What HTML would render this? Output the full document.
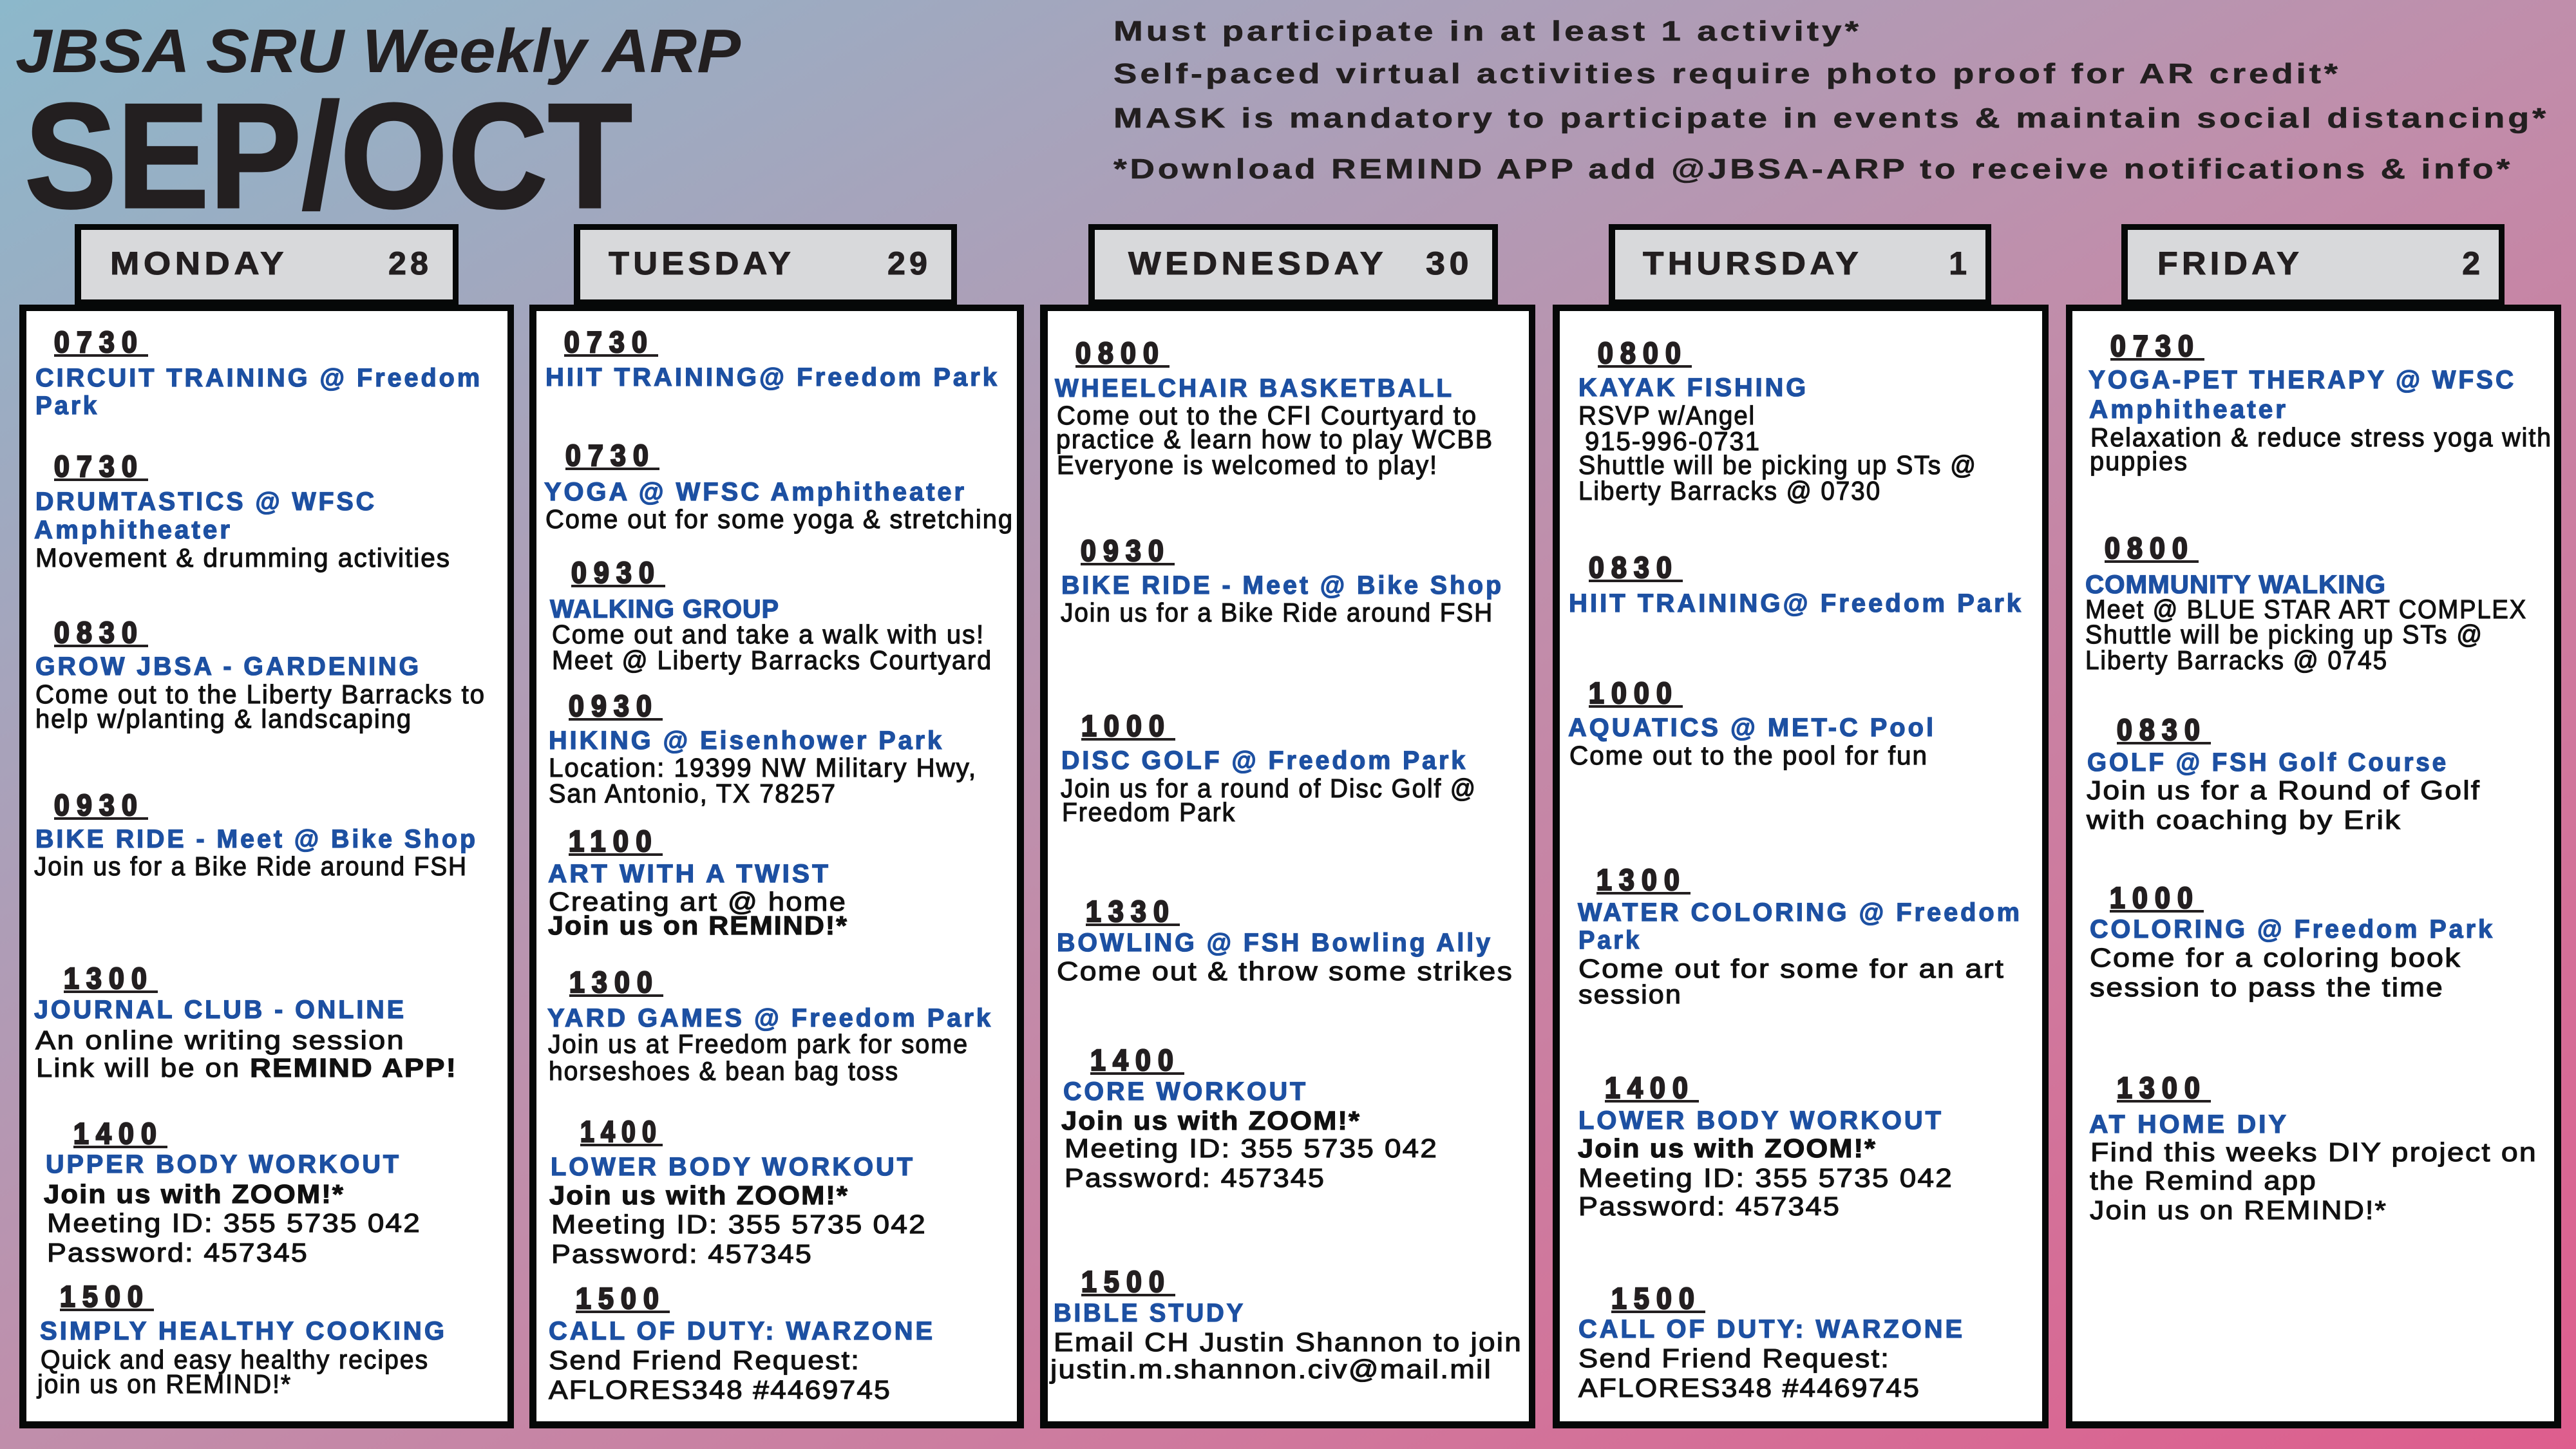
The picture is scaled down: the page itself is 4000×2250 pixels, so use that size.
<!DOCTYPE html>
<html><head><meta charset="utf-8"><style>
html,body{margin:0;padding:0;}
body{width:4000px;height:2250px;overflow:hidden;background:linear-gradient(to bottom right,#8cb8cb 0%,#a7a3bb 25%,#c08eab 50%,#d0779c 75%,#de5d8d 100%);}
svg{position:absolute;left:0;top:0;}
text{font-family:"Liberation Sans",Arial,sans-serif;}
.h{font-weight:bold;font-size:40px;fill:#1d50a2;stroke:#1d50a2;stroke-width:1.3px;letter-spacing:4px;}
.b{font-size:41px;fill:#111;stroke:#111;stroke-width:1.2px;letter-spacing:2px;}
.bb{font-weight:bold;}
.t{font-weight:bold;font-size:46px;fill:#231f20;stroke:#231f20;stroke-width:2.6px;letter-spacing:12px;}
.d{font-weight:bold;font-size:50px;fill:#231f20;stroke:#231f20;stroke-width:1px;letter-spacing:6px;}
.n{font-weight:bold;font-size:44px;fill:#231f20;stroke:#231f20;stroke-width:0.6px;letter-spacing:4px;}
</style></head><body>
<svg width="4000" height="2250" viewBox="0 0 4000 2250" xmlns="http://www.w3.org/2000/svg">
<!-- Title -->
<text x="24" y="112" font-size="96" font-weight="bold" font-style="italic" fill="#231f20" textLength="1126" lengthAdjust="spacingAndGlyphs">JBSA SRU Weekly ARP</text>
<text x="38" y="322" font-size="232" font-weight="bold" fill="#231f20" stroke="#231f20" stroke-width="3" textLength="944" lengthAdjust="spacingAndGlyphs">SEP/OCT</text>
<!-- Notes -->
<text class="n" x="1729" y="63" textLength="1162" lengthAdjust="spacingAndGlyphs">Must participate in at least 1 activity*</text>
<text class="n" x="1729" y="129" textLength="1906" lengthAdjust="spacingAndGlyphs">Self-paced virtual activities require photo proof for AR credit*</text>
<text class="n" x="1729" y="198" textLength="2229" lengthAdjust="spacingAndGlyphs">MASK is mandatory to participate in events &amp; maintain social distancing*</text>
<text class="n" x="1729" y="277" textLength="2173" lengthAdjust="spacingAndGlyphs">*Download REMIND APP add @JBSA-ARP to receive notifications &amp; info*</text>

<!-- Column boxes -->
<g fill="#060808">
<rect x="30" y="473" width="768" height="1745"/>
<rect x="822" y="473" width="768" height="1745"/>
<rect x="1615" y="473" width="769" height="1745"/>
<rect x="2411" y="473" width="770" height="1745"/>
<rect x="3208" y="473" width="769" height="1745"/>
</g>
<g fill="#ffffff">
<rect x="41" y="483" width="747" height="1724"/>
<rect x="833" y="483" width="746" height="1724"/>
<rect x="1627" y="483" width="747" height="1724"/>
<rect x="2422" y="483" width="749" height="1724"/>
<rect x="3218" y="483" width="748" height="1724"/>
</g>
<!-- Header boxes -->
<g fill="#060808">
<rect x="116" y="348" width="596" height="135"/>
<rect x="891" y="348" width="595" height="135"/>
<rect x="1690" y="348" width="636" height="135"/>
<rect x="2498" y="348" width="594" height="135"/>
<rect x="3294" y="348" width="595" height="135"/>
</g>
<g fill="#d8d9db">
<rect x="126" y="357" width="577" height="108"/>
<rect x="901" y="357" width="576" height="108"/>
<rect x="1700" y="357" width="617" height="108"/>
<rect x="2508" y="357" width="575" height="108"/>
<rect x="3304" y="357" width="576" height="108"/>
</g>
<text class="d" x="171" y="426" textLength="276" lengthAdjust="spacingAndGlyphs">MONDAY</text>
<text class="d" x="603" y="426" textLength="68" lengthAdjust="spacingAndGlyphs">28</text>
<text class="d" x="945" y="426" textLength="289" lengthAdjust="spacingAndGlyphs">TUESDAY</text>
<text class="d" x="1378" y="426" textLength="68" lengthAdjust="spacingAndGlyphs">29</text>
<text class="d" x="1752" y="426" textLength="402" lengthAdjust="spacingAndGlyphs">WEDNESDAY</text>
<text class="d" x="2214" y="426" textLength="73" lengthAdjust="spacingAndGlyphs">30</text>
<text class="d" x="2551" y="426" textLength="341" lengthAdjust="spacingAndGlyphs">THURSDAY</text>
<text class="d" x="3054" y="426" text-anchor="end" style="letter-spacing:0">1</text>
<text class="d" x="3350" y="426" textLength="226" lengthAdjust="spacingAndGlyphs">FRIDAY</text>
<text class="d" x="3851" y="426" text-anchor="end" style="letter-spacing:0">2</text>

<!-- underlines for times -->
<g fill="#231f20">
<rect x="84" y="550" width="146" height="4"/>
<rect x="84" y="743" width="146" height="4"/>
<rect x="84" y="1001" width="146" height="4"/>
<rect x="84" y="1269" width="146" height="4"/>
<rect x="99" y="1538" width="146" height="4"/>
<rect x="114" y="1779" width="146" height="4"/>
<rect x="93" y="2032" width="146" height="4"/>

<rect x="876" y="550" width="146" height="4"/>
<rect x="878" y="726" width="146" height="4"/>
<rect x="887" y="908" width="146" height="4"/>
<rect x="883" y="1115" width="146" height="4"/>
<rect x="883" y="1325" width="146" height="4"/>
<rect x="884" y="1544" width="146" height="4"/>
<rect x="901" y="1776" width="128" height="4"/>
<rect x="894" y="2035" width="146" height="4"/>

<rect x="1670" y="567" width="146" height="4"/>
<rect x="1678" y="874" width="146" height="4"/>
<rect x="1679" y="1146" width="146" height="4"/>
<rect x="1686" y="1434" width="146" height="4"/>
<rect x="1693" y="1665" width="146" height="4"/>
<rect x="1679" y="2009" width="146" height="4"/>

<rect x="2481" y="567" width="146" height="4"/>
<rect x="2467" y="900" width="146" height="4"/>
<rect x="2467" y="1095" width="146" height="4"/>
<rect x="2479" y="1385" width="146" height="4"/>
<rect x="2492" y="1708" width="146" height="4"/>
<rect x="2502" y="2035" width="146" height="4"/>

<rect x="3277" y="556" width="146" height="4"/>
<rect x="3268" y="870" width="146" height="4"/>
<rect x="3287" y="1152" width="146" height="4"/>
<rect x="3276" y="1413" width="146" height="4"/>
<rect x="3287" y="1708" width="146" height="4"/>
</g>

<!-- MONDAY -->
<text class="t" x="84" y="547" textLength="140" lengthAdjust="spacingAndGlyphs">0730</text>
<text class="h" x="55" y="600" textLength="694" lengthAdjust="spacingAndGlyphs">CIRCUIT TRAINING @ Freedom</text>
<text class="h" x="55" y="643" textLength="99" lengthAdjust="spacingAndGlyphs">Park</text>
<text class="t" x="84" y="740" textLength="140" lengthAdjust="spacingAndGlyphs">0730</text>
<text class="h" x="55" y="792" textLength="530" lengthAdjust="spacingAndGlyphs">DRUMTASTICS @ WFSC</text>
<text class="h" x="53" y="836" textLength="308" lengthAdjust="spacingAndGlyphs">Amphitheater</text>
<text class="b" x="55" y="880" textLength="645" lengthAdjust="spacingAndGlyphs">Movement &amp; drumming activities</text>
<text class="t" x="84" y="998" textLength="140" lengthAdjust="spacingAndGlyphs">0830</text>
<text class="h" x="55" y="1048" textLength="599" lengthAdjust="spacingAndGlyphs">GROW JBSA - GARDENING</text>
<text class="b" x="55" y="1092" textLength="699" lengthAdjust="spacingAndGlyphs">Come out to the Liberty Barracks to</text>
<text class="b" x="55" y="1130" textLength="585" lengthAdjust="spacingAndGlyphs">help w/planting &amp; landscaping</text>
<text class="t" x="84" y="1266" textLength="140" lengthAdjust="spacingAndGlyphs">0930</text>
<text class="h" x="55" y="1316" textLength="687" lengthAdjust="spacingAndGlyphs">BIKE RIDE - Meet @ Bike Shop</text>
<text class="b" x="53" y="1359" textLength="673" lengthAdjust="spacingAndGlyphs">Join us for a Bike Ride around FSH</text>
<text class="t" x="99" y="1535" textLength="140" lengthAdjust="spacingAndGlyphs">1300</text>
<text class="h" x="53" y="1581" textLength="578" lengthAdjust="spacingAndGlyphs">JOURNAL CLUB - ONLINE</text>
<text class="b" x="55" y="1629" textLength="574" lengthAdjust="spacingAndGlyphs">An online writing session</text>
<text class="b" x="56" y="1672" textLength="654" lengthAdjust="spacingAndGlyphs">Link will be on <tspan class="bb">REMIND APP!</tspan></text>
<text class="t" x="114" y="1776" textLength="140" lengthAdjust="spacingAndGlyphs">1400</text>
<text class="h" x="71" y="1821" textLength="552" lengthAdjust="spacingAndGlyphs">UPPER BODY WORKOUT</text>
<text class="b bb" x="68" y="1868" textLength="467" lengthAdjust="spacingAndGlyphs">Join us with ZOOM!*</text>
<text class="b" x="73" y="1913" textLength="581" lengthAdjust="spacingAndGlyphs">Meeting ID: 355 5735 042</text>
<text class="b" x="73" y="1959" textLength="406" lengthAdjust="spacingAndGlyphs">Password: 457345</text>
<text class="t" x="93" y="2029" textLength="140" lengthAdjust="spacingAndGlyphs">1500</text>
<text class="h" x="62" y="2080" textLength="632" lengthAdjust="spacingAndGlyphs">SIMPLY HEALTHY COOKING</text>
<text class="b" x="63" y="2125" textLength="603" lengthAdjust="spacingAndGlyphs">Quick and easy healthy recipes</text>
<text class="b" x="58" y="2163" textLength="395" lengthAdjust="spacingAndGlyphs">join us on REMIND!*</text>

<!-- TUESDAY -->
<text class="t" x="876" y="547" textLength="140" lengthAdjust="spacingAndGlyphs">0730</text>
<text class="h" x="847" y="599" textLength="705" lengthAdjust="spacingAndGlyphs">HIIT TRAINING@ Freedom Park</text>
<text class="t" x="878" y="723" textLength="140" lengthAdjust="spacingAndGlyphs">0730</text>
<text class="h" x="845" y="777" textLength="656" lengthAdjust="spacingAndGlyphs">YOGA @ WFSC Amphitheater</text>
<text class="b" x="847" y="820" textLength="727" lengthAdjust="spacingAndGlyphs">Come out for some yoga &amp; stretching</text>
<text class="t" x="887" y="905" textLength="140" lengthAdjust="spacingAndGlyphs">0930</text>
<text class="h" x="854" y="959" textLength="356" lengthAdjust="spacingAndGlyphs" style="letter-spacing:1px">WALKING GROUP</text>
<text class="b" x="857" y="999" textLength="672" lengthAdjust="spacingAndGlyphs">Come out and take a walk with us!</text>
<text class="b" x="857" y="1039" textLength="684" lengthAdjust="spacingAndGlyphs">Meet @ Liberty Barracks Courtyard</text>
<text class="t" x="883" y="1112" textLength="140" lengthAdjust="spacingAndGlyphs">0930</text>
<text class="h" x="852" y="1163" textLength="614" lengthAdjust="spacingAndGlyphs">HIKING @ Eisenhower Park</text>
<text class="b" x="852" y="1206" textLength="665" lengthAdjust="spacingAndGlyphs">Location: 19399 NW Military Hwy,</text>
<text class="b" x="852" y="1246" textLength="447" lengthAdjust="spacingAndGlyphs">San Antonio, TX 78257</text>
<text class="t" x="883" y="1322" textLength="140" lengthAdjust="spacingAndGlyphs">1100</text>
<text class="h" x="851" y="1370" textLength="439" lengthAdjust="spacingAndGlyphs">ART WITH A TWIST</text>
<text class="b" x="852" y="1414" textLength="463" lengthAdjust="spacingAndGlyphs">Creating art @ home</text>
<text class="b bb" x="851" y="1451" textLength="466" lengthAdjust="spacingAndGlyphs">Join us on REMIND!*</text>
<text class="t" x="884" y="1541" textLength="140" lengthAdjust="spacingAndGlyphs">1300</text>
<text class="h" x="850" y="1594" textLength="692" lengthAdjust="spacingAndGlyphs">YARD GAMES @ Freedom Park</text>
<text class="b" x="851" y="1635" textLength="653" lengthAdjust="spacingAndGlyphs">Join us at Freedom park for some</text>
<text class="b" x="852" y="1677" textLength="544" lengthAdjust="spacingAndGlyphs">horseshoes &amp; bean bag toss</text>
<text class="t" x="901" y="1773" textLength="128" lengthAdjust="spacingAndGlyphs">1400</text>
<text class="h" x="855" y="1825" textLength="566" lengthAdjust="spacingAndGlyphs">LOWER BODY WORKOUT</text>
<text class="b bb" x="853" y="1870" textLength="465" lengthAdjust="spacingAndGlyphs">Join us with ZOOM!*</text>
<text class="b" x="856" y="1915" textLength="583" lengthAdjust="spacingAndGlyphs">Meeting ID: 355 5735 042</text>
<text class="b" x="856" y="1961" textLength="406" lengthAdjust="spacingAndGlyphs">Password: 457345</text>
<text class="t" x="894" y="2032" textLength="140" lengthAdjust="spacingAndGlyphs">1500</text>
<text class="h" x="852" y="2080" textLength="600" lengthAdjust="spacingAndGlyphs">CALL OF DUTY: WARZONE</text>
<text class="b" x="852" y="2126" textLength="484" lengthAdjust="spacingAndGlyphs">Send Friend Request:</text>
<text class="b" x="852" y="2172" textLength="532" lengthAdjust="spacingAndGlyphs">AFLORES348 #4469745</text>

<!-- WEDNESDAY -->
<text class="t" x="1670" y="564" textLength="140" lengthAdjust="spacingAndGlyphs">0800</text>
<text class="h" x="1638" y="616" textLength="620" lengthAdjust="spacingAndGlyphs">WHEELCHAIR BASKETBALL</text>
<text class="b" x="1641" y="659" textLength="653" lengthAdjust="spacingAndGlyphs">Come out to the CFI Courtyard to</text>
<text class="b" x="1640" y="696" textLength="679" lengthAdjust="spacingAndGlyphs">practice &amp; learn how to play WCBB</text>
<text class="b" x="1641" y="736" textLength="592" lengthAdjust="spacingAndGlyphs">Everyone is welcomed to play!</text>
<text class="t" x="1678" y="871" textLength="140" lengthAdjust="spacingAndGlyphs">0930</text>
<text class="h" x="1648" y="922" textLength="687" lengthAdjust="spacingAndGlyphs">BIKE RIDE - Meet @ Bike Shop</text>
<text class="b" x="1647" y="965" textLength="672" lengthAdjust="spacingAndGlyphs">Join us for a Bike Ride around FSH</text>
<text class="t" x="1679" y="1143" textLength="140" lengthAdjust="spacingAndGlyphs">1000</text>
<text class="h" x="1648" y="1194" textLength="631" lengthAdjust="spacingAndGlyphs">DISC GOLF @ Freedom Park</text>
<text class="b" x="1647" y="1238" textLength="646" lengthAdjust="spacingAndGlyphs">Join us for a round of Disc Golf @</text>
<text class="b" x="1649" y="1275" textLength="270" lengthAdjust="spacingAndGlyphs">Freedom Park</text>
<text class="t" x="1686" y="1431" textLength="140" lengthAdjust="spacingAndGlyphs">1330</text>
<text class="h" x="1641" y="1477" textLength="677" lengthAdjust="spacingAndGlyphs">BOWLING @ FSH Bowling Ally</text>
<text class="b" x="1641" y="1522" textLength="709" lengthAdjust="spacingAndGlyphs">Come out &amp; throw some strikes</text>
<text class="t" x="1693" y="1662" textLength="140" lengthAdjust="spacingAndGlyphs">1400</text>
<text class="h" x="1651" y="1708" textLength="380" lengthAdjust="spacingAndGlyphs">CORE WORKOUT</text>
<text class="b bb" x="1648" y="1754" textLength="465" lengthAdjust="spacingAndGlyphs">Join us with ZOOM!*</text>
<text class="b" x="1653" y="1797" textLength="580" lengthAdjust="spacingAndGlyphs">Meeting ID: 355 5735 042</text>
<text class="b" x="1653" y="1843" textLength="405" lengthAdjust="spacingAndGlyphs">Password: 457345</text>
<text class="t" x="1679" y="2006" textLength="140" lengthAdjust="spacingAndGlyphs">1500</text>
<text class="h" x="1636" y="2052" textLength="298" lengthAdjust="spacingAndGlyphs">BIBLE STUDY</text>
<text class="b" x="1636" y="2098" textLength="728" lengthAdjust="spacingAndGlyphs">Email CH Justin Shannon to join</text>
<text class="b" x="1631" y="2140" textLength="686" lengthAdjust="spacingAndGlyphs">justin.m.shannon.civ@mail.mil</text>

<!-- THURSDAY -->
<text class="t" x="2481" y="564" textLength="140" lengthAdjust="spacingAndGlyphs">0800</text>
<text class="h" x="2451" y="615" textLength="357" lengthAdjust="spacingAndGlyphs">KAYAK FISHING</text>
<text class="b" x="2451" y="659" textLength="275" lengthAdjust="spacingAndGlyphs">RSVP w/Angel</text>
<text class="b" x="2461" y="699" textLength="273" lengthAdjust="spacingAndGlyphs">915-996-0731</text>
<text class="b" x="2451" y="736" textLength="619" lengthAdjust="spacingAndGlyphs">Shuttle will be picking up STs @</text>
<text class="b" x="2451" y="776" textLength="470" lengthAdjust="spacingAndGlyphs">Liberty Barracks @ 0730</text>
<text class="t" x="2467" y="897" textLength="140" lengthAdjust="spacingAndGlyphs">0830</text>
<text class="h" x="2436" y="950" textLength="706" lengthAdjust="spacingAndGlyphs">HIIT TRAINING@ Freedom Park</text>
<text class="t" x="2467" y="1092" textLength="140" lengthAdjust="spacingAndGlyphs">1000</text>
<text class="h" x="2435" y="1143" textLength="571" lengthAdjust="spacingAndGlyphs">AQUATICS @ MET-C Pool</text>
<text class="b" x="2437" y="1187" textLength="557" lengthAdjust="spacingAndGlyphs">Come out to the pool for fun</text>
<text class="t" x="2479" y="1382" textLength="140" lengthAdjust="spacingAndGlyphs">1300</text>
<text class="h" x="2450" y="1430" textLength="690" lengthAdjust="spacingAndGlyphs">WATER COLORING @ Freedom</text>
<text class="h" x="2451" y="1473" textLength="98" lengthAdjust="spacingAndGlyphs">Park</text>
<text class="b" x="2451" y="1518" textLength="662" lengthAdjust="spacingAndGlyphs">Come out for some for an art</text>
<text class="b" x="2451" y="1558" textLength="161" lengthAdjust="spacingAndGlyphs">session</text>
<text class="t" x="2492" y="1705" textLength="140" lengthAdjust="spacingAndGlyphs">1400</text>
<text class="h" x="2451" y="1753" textLength="567" lengthAdjust="spacingAndGlyphs">LOWER BODY WORKOUT</text>
<text class="b bb" x="2450" y="1797" textLength="464" lengthAdjust="spacingAndGlyphs">Join us with ZOOM!*</text>
<text class="b" x="2451" y="1843" textLength="582" lengthAdjust="spacingAndGlyphs">Meeting ID: 355 5735 042</text>
<text class="b" x="2451" y="1887" textLength="407" lengthAdjust="spacingAndGlyphs">Password: 457345</text>
<text class="t" x="2502" y="2032" textLength="140" lengthAdjust="spacingAndGlyphs">1500</text>
<text class="h" x="2451" y="2077" textLength="600" lengthAdjust="spacingAndGlyphs">CALL OF DUTY: WARZONE</text>
<text class="b" x="2451" y="2123" textLength="484" lengthAdjust="spacingAndGlyphs">Send Friend Request:</text>
<text class="b" x="2451" y="2169" textLength="531" lengthAdjust="spacingAndGlyphs">AFLORES348 #4469745</text>

<!-- FRIDAY -->
<text class="t" x="3277" y="553" textLength="140" lengthAdjust="spacingAndGlyphs">0730</text>
<text class="h" x="3243" y="603" textLength="664" lengthAdjust="spacingAndGlyphs">YOGA-PET THERAPY @ WFSC</text>
<text class="h" x="3244" y="649" textLength="309" lengthAdjust="spacingAndGlyphs">Amphitheater</text>
<text class="b" x="3246" y="693" textLength="717" lengthAdjust="spacingAndGlyphs">Relaxation &amp; reduce stress yoga with</text>
<text class="b" x="3245" y="730" textLength="153" lengthAdjust="spacingAndGlyphs">puppies</text>
<text class="t" x="3268" y="867" textLength="140" lengthAdjust="spacingAndGlyphs">0800</text>
<text class="h" x="3238" y="921" textLength="467" lengthAdjust="spacingAndGlyphs" style="letter-spacing:1px">COMMUNITY WALKING</text>
<text class="b" x="3238" y="960" textLength="686" lengthAdjust="spacingAndGlyphs">Meet @ BLUE STAR ART COMPLEX</text>
<text class="b" x="3238" y="999" textLength="618" lengthAdjust="spacingAndGlyphs">Shuttle will be picking up STs @</text>
<text class="b" x="3238" y="1039" textLength="470" lengthAdjust="spacingAndGlyphs">Liberty Barracks @ 0745</text>
<text class="t" x="3287" y="1149" textLength="140" lengthAdjust="spacingAndGlyphs">0830</text>
<text class="h" x="3241" y="1197" textLength="561" lengthAdjust="spacingAndGlyphs">GOLF @ FSH Golf Course</text>
<text class="b" x="3240" y="1241" textLength="612" lengthAdjust="spacingAndGlyphs">Join us for a Round of Golf</text>
<text class="b" x="3240" y="1287" textLength="489" lengthAdjust="spacingAndGlyphs">with coaching by Erik</text>
<text class="t" x="3276" y="1410" textLength="140" lengthAdjust="spacingAndGlyphs">1000</text>
<text class="h" x="3245" y="1456" textLength="629" lengthAdjust="spacingAndGlyphs">COLORING @ Freedom Park</text>
<text class="b" x="3245" y="1501" textLength="577" lengthAdjust="spacingAndGlyphs">Come for a coloring book</text>
<text class="b" x="3245" y="1547" textLength="550" lengthAdjust="spacingAndGlyphs">session to pass the time</text>
<text class="t" x="3287" y="1705" textLength="140" lengthAdjust="spacingAndGlyphs">1300</text>
<text class="h" x="3244" y="1759" textLength="310" lengthAdjust="spacingAndGlyphs">AT HOME DIY</text>
<text class="b" x="3246" y="1803" textLength="694" lengthAdjust="spacingAndGlyphs">Find this weeks DIY project on</text>
<text class="b" x="3245" y="1847" textLength="353" lengthAdjust="spacingAndGlyphs">the Remind app</text>
<text class="b" x="3245" y="1893" textLength="462" lengthAdjust="spacingAndGlyphs">Join us on REMIND!*</text>
</svg>
</body></html>
